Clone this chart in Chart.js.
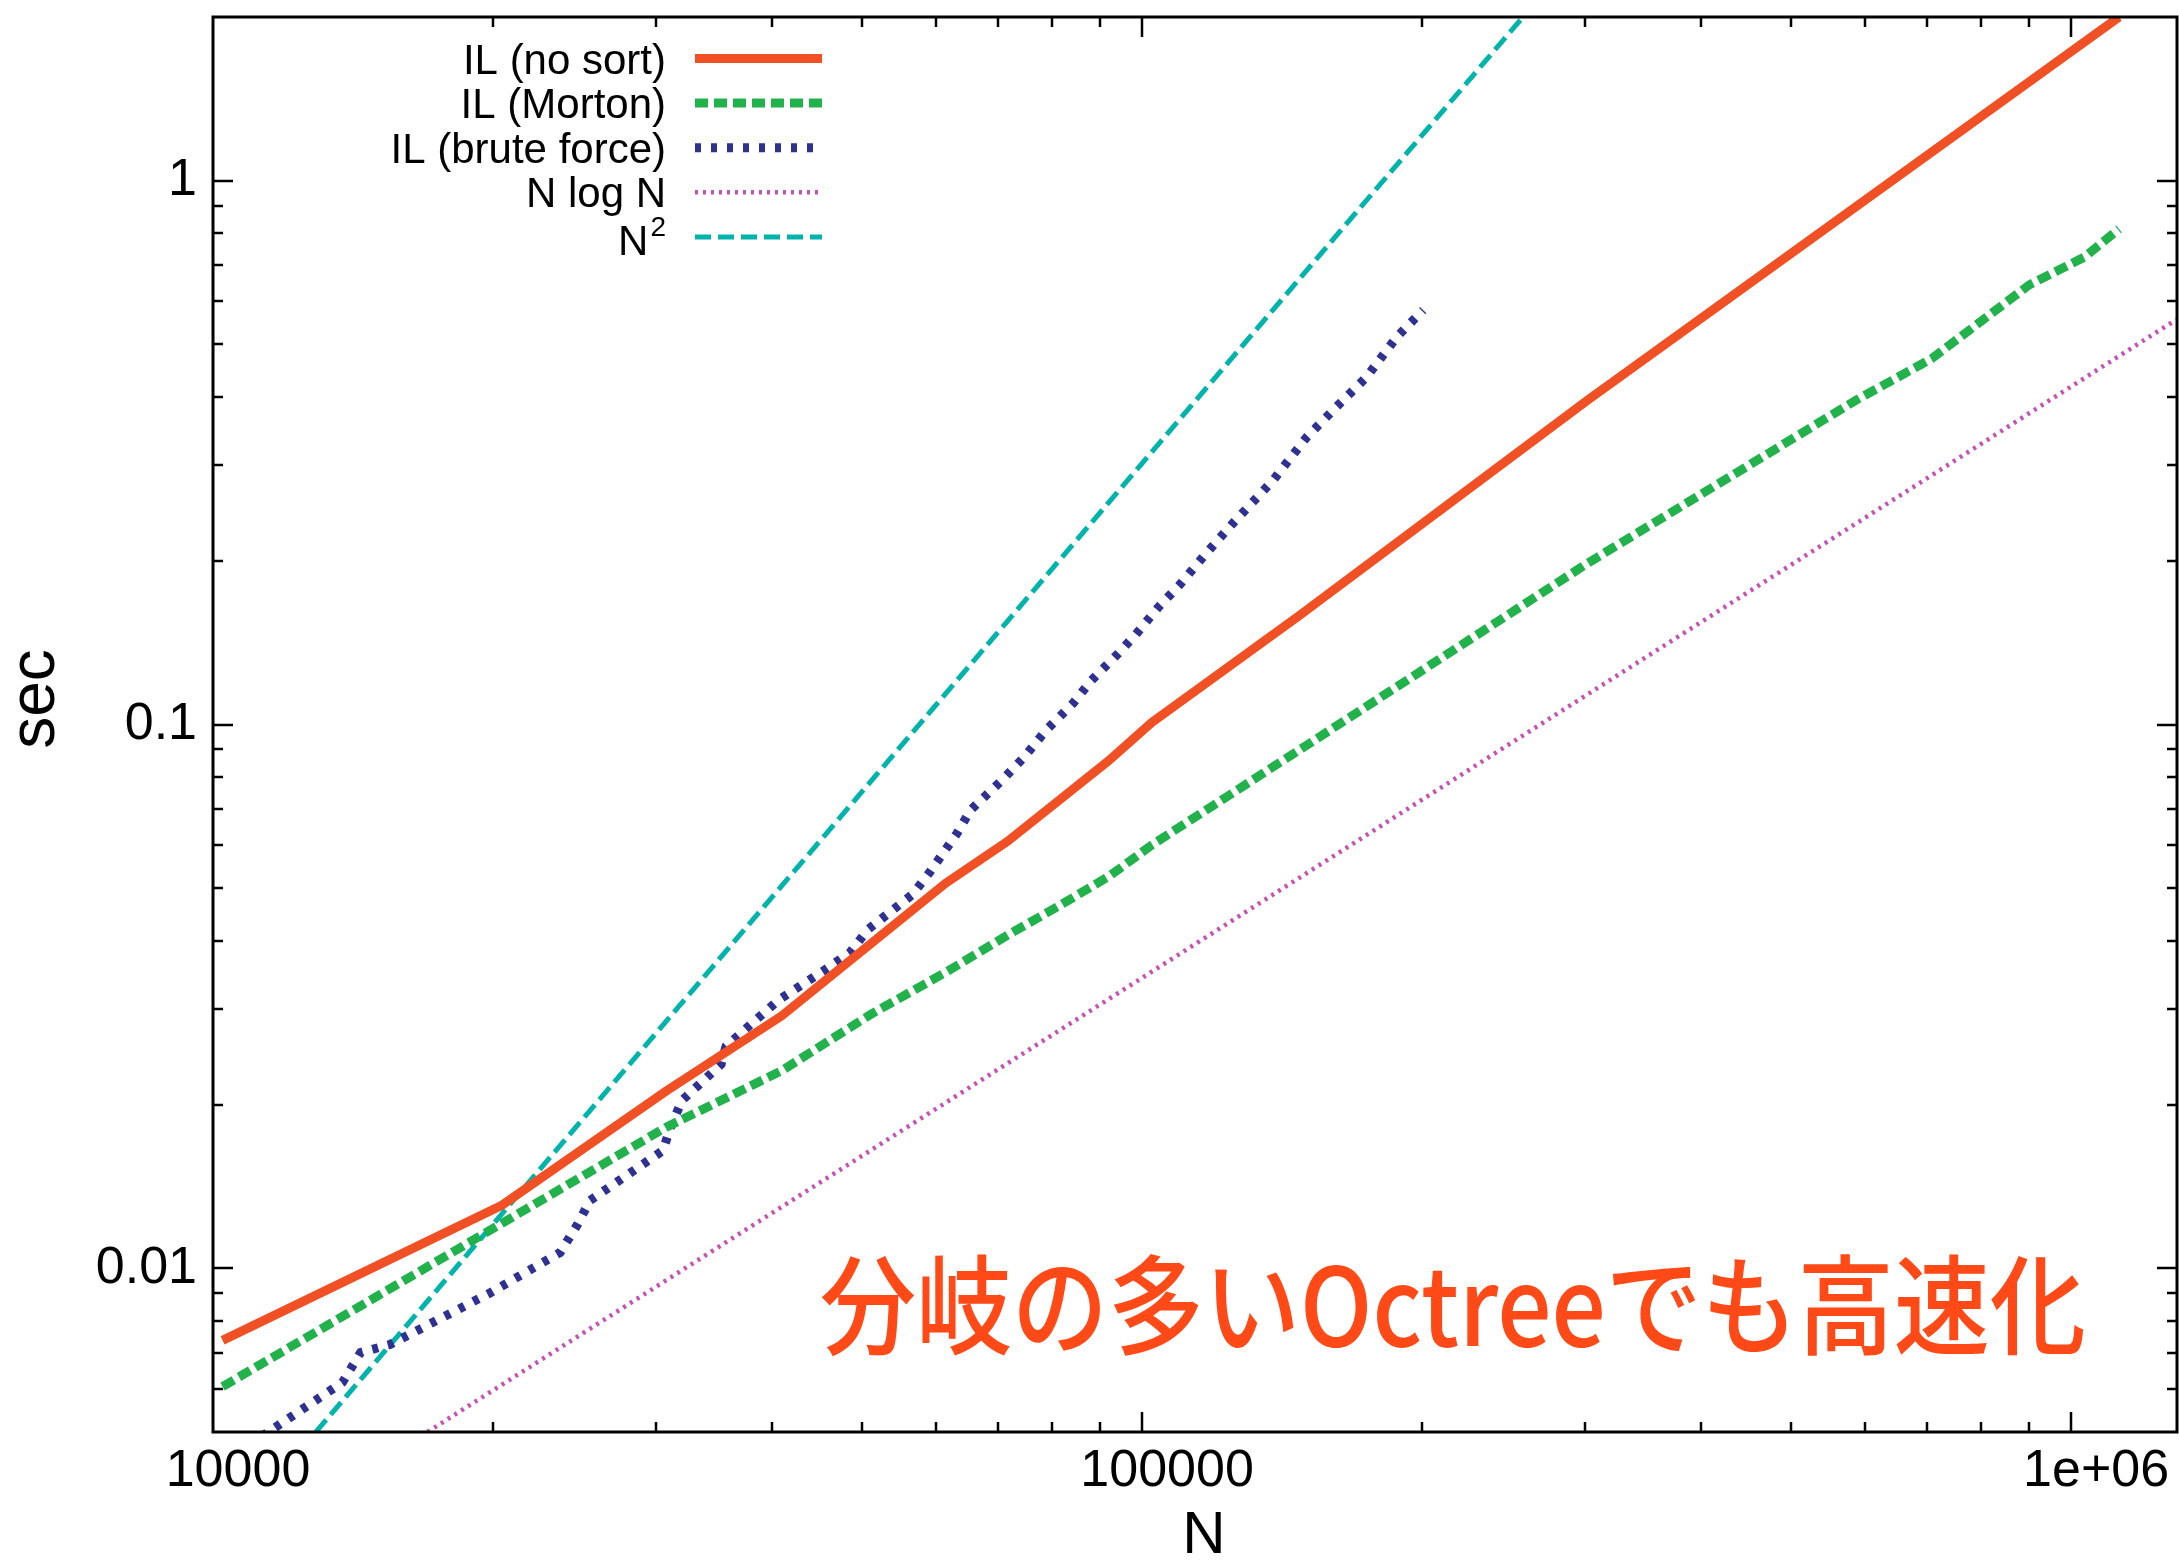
<!DOCTYPE html>
<html>
<head>
<meta charset="utf-8">
<script src="https://cdn.jsdelivr.net/npm/chart.js@4.4.0/dist/chart.umd.min.js"></script>
<style>
  html, body { margin: 0; padding: 0; background: #fff; }
  #wrap { width: 2179px; height: 1562px; position: relative; }
</style>
</head>
<body>
<div id="wrap"><canvas id="myChart"></canvas></div>
<script>
// ---- values (N, seconds) ----
const redN   = [10240, 20480, 30720, 40960, 51200, 61440, 71680, 81920, 92160, 102400, 148000, 301700, 1126000];
const redSec = [0.00737, 0.01307, 0.02116, 0.02914, 0.0397, 0.05105, 0.0610, 0.0732, 0.0859, 0.1008, 0.159, 0.395, 2.0];

const greenN   = [10240, 20480, 30720, 40960, 51200, 61440, 71680, 81920, 92160, 102400, 148000, 301700, 587000, 708000, 901000, 1034000, 1126000];
const greenSec = [0.00606, 0.01211, 0.01816, 0.0231, 0.0294, 0.035, 0.041, 0.0467, 0.0526, 0.0600, 0.090, 0.198, 0.395, 0.471, 0.643, 0.724, 0.815];

const blueN   = [11290, 13785, 14415, 15505, 19825, 23635, 24650, 25460, 30510, 31040, 31975, 35225, 35665, 40570, 45360, 48500, 50700,
                 56620, 59130, 63220, 65370, 70680, 74650, 78820, 84290, 88130, 94230, 98520, 104030, 109880, 116340, 125300, 138400,
                 150460, 163420, 174530, 188050, 200700];
const blueSec = [0.00491, 0.00617, 0.0070, 0.00724, 0.00899, 0.01069, 0.0120, 0.01333, 0.01647, 0.01809, 0.02036, 0.02372, 0.0256,
                 0.0311, 0.0352, 0.0381, 0.0420, 0.0487, 0.0536, 0.0631, 0.0696, 0.0790, 0.0871, 0.0976, 0.1094, 0.1204, 0.135,
                 0.1466, 0.164, 0.181, 0.2034, 0.2346, 0.2814, 0.338, 0.390, 0.4359, 0.5164, 0.578];

const nlognN   = [17015, 115500, 1297000];
const nlognSec = [0.005, 0.0400, 0.555];

const n2N   = [12900, 257000];
const n2Sec = [0.005, 2.0];

const seriesLabels = ['IL (no sort)', 'IL (Morton)', 'IL (brute force)', 'N log N', 'N²'];
const xTickValues = [1e4, 1e5, 1e6];
const xTickLabels = ['10000', '100000', '1e+06'];
const yTickValues = [0.01, 0.1, 1];
const yTickLabels = ['0.01', '0.1', '1'];
const xTitle = 'N';
const yTitle = 'sec';
const note = '分岐の多いOctreeでも高速化';

const FONT = "'Liberation Sans', Arial, Helvetica, sans-serif";

function pts(xs, ys) {
  return xs.map((x, i) => ({x: x, y: ys[i]}));
}

function lineSet(label, xs, ys, color, width, dash) {
  return {
    label: label,
    data: pts(xs, ys),
    borderColor: color,
    backgroundColor: color,
    borderWidth: width,
    borderDash: dash,
    borderCapStyle: 'butt',
    borderJoinStyle: 'miter',
    pointRadius: 0,
    tension: 0,
    fill: false,
    clip: 0
  };
}

const data = {
  datasets: [
    lineSet(seriesLabels[0], redN, redSec, '#f15024', 9, []),
    lineSet(seriesLabels[1], greenN, greenSec, '#22b24c', 9, [13, 6]),
    lineSet(seriesLabels[2], blueN, blueSec, '#2e3192', 9, [6, 10]),
    lineSet(seriesLabels[3], nlognN, nlognSec, '#c652b4', 4.5, [3, 5]),
    lineSet(seriesLabels[4], n2N, n2Sec, '#00b4ab', 5, [16, 7])
  ]
};

// frame + inward log ticks on all four sides
const frame = {
  id: 'frame',
  afterDatasetsDraw(chart) {
    const {ctx, chartArea: a, scales: {x, y}} = chart;
    ctx.save();
    ctx.strokeStyle = '#000';
    ctx.lineWidth = 2.5;
    ctx.beginPath();
    for (let e = 4; e <= 6; e++) {
      for (let m = 1; m <= 9; m++) {
        const v = m * Math.pow(10, e);
        if (v <= x.min || v >= x.max) continue;
        const px = Math.round(x.getPixelForValue(v));
        const len = m === 1 ? 20 : 10;
        ctx.moveTo(px, a.bottom); ctx.lineTo(px, a.bottom - len);
        ctx.moveTo(px, a.top); ctx.lineTo(px, a.top + len);
      }
    }
    for (let e = -3; e <= 0; e++) {
      for (let m = 1; m <= 9; m++) {
        const v = m * Math.pow(10, e);
        if (v <= y.min * 1.0001 || v >= y.max * 0.9999) continue;
        const py = Math.round(y.getPixelForValue(v));
        const len = m === 1 ? 20 : 10;
        ctx.moveTo(a.left, py); ctx.lineTo(a.left + len, py);
        ctx.moveTo(a.right, py); ctx.lineTo(a.right - len, py);
      }
    }
    ctx.stroke();
    ctx.lineWidth = 3;
    ctx.strokeRect(a.left, a.top, a.right - a.left, a.bottom - a.top);
    ctx.restore();
  }
};

// legend (text right-aligned, sample on the right), axis titles and the note
const extras = {
  id: 'extras',
  afterDraw(chart) {
    const {ctx, chartArea: a} = chart;
    ctx.save();
    const textRight = a.left + 453;
    const x0 = a.left + 482, x1 = a.left + 609;
    ctx.font = '42px ' + FONT;
    ctx.fillStyle = '#000';
    ctx.textAlign = 'right';
    ctx.textBaseline = 'alphabetic';
    chart.data.datasets.forEach((ds, i) => {
      const cy = a.top + 41.5 + i * 44.6;
      const base = cy + 15;
      let label = ds.label;
      if (label.endsWith('²')) {
        const main = label.slice(0, -1);
        ctx.font = '28px ' + FONT;
        ctx.fillText('2', textRight, base - 16);
        const w2 = ctx.measureText('2').width;
        ctx.font = '42px ' + FONT;
        ctx.fillText(main, textRight - w2 - 2, base + 3);
      } else {
        ctx.fillText(label, textRight, base);
      }
      ctx.beginPath();
      ctx.strokeStyle = ds.borderColor;
      ctx.lineWidth = ds.borderWidth;
      ctx.setLineDash(ds.borderDash);
      ctx.lineCap = 'butt';
      ctx.moveTo(x0, cy);
      ctx.lineTo(x1, cy);
      ctx.stroke();
      ctx.setLineDash([]);
    });

    // axis titles
    ctx.fillStyle = '#000';
    ctx.textAlign = 'center';
    ctx.textBaseline = 'middle';
    ctx.font = '60px ' + FONT;
    ctx.fillText(xTitle, 1204, 1536);
    ctx.save();
    ctx.translate(36, 699);
    ctx.rotate(-Math.PI / 2);
    ctx.font = '64px ' + FONT;
    ctx.fillText(yTitle, 0, 0);
    ctx.restore();

    // note (slightly tall, like the original)
    ctx.save();
    ctx.translate(820, 1305);
    ctx.scale(1, 1.12);
    ctx.font = "500 96px 'Noto Sans CJK JP', sans-serif";
    ctx.fillStyle = '#ff4a17';
    ctx.textAlign = 'left';
    ctx.textBaseline = 'middle';
    ctx.fillText(note, 0, 0, 1272);
    ctx.restore();
    ctx.restore();
  }
};

const config = {
  type: 'line',
  data,
  options: {
    responsive: true,
    maintainAspectRatio: false,
    animation: false,
    devicePixelRatio: 1,
    layout: { padding: { top: 17, right: 2, left: 0, bottom: 0 } },
    plugins: {
      legend: { display: false },
      tooltip: { enabled: false }
    },
    scales: {
      x: {
        type: 'logarithmic',
        min: 10000,
        max: 1300000,
        grid: { display: false, drawTicks: false },
        border: { display: false },
        afterBuildTicks: (s) => { s.ticks = xTickValues.map(v => ({value: v})); },
        afterFit: (s) => { s.height = 130; s.paddingLeft = 0; s.paddingRight = 0; },
        ticks: {
          autoSkip: false,
          maxRotation: 0,
          padding: 8,
          labelOffset: 25,
          color: '#000',
          font: { family: FONT, size: 52 },
          callback: (v, i) => xTickLabels[i]
        }
      },
      y: {
        type: 'logarithmic',
        min: 0.005,
        max: 2,
        grid: { display: false, drawTicks: false },
        border: { display: false },
        afterBuildTicks: (s) => { s.ticks = yTickValues.map(v => ({value: v})); },
        afterFit: (s) => { s.width = 213; s.paddingTop = 0; s.paddingBottom = 0; },
        ticks: {
          autoSkip: false,
          padding: 16,
          color: '#000',
          font: { family: FONT, size: 52 },
          callback: (v, i) => yTickLabels[i]
        }
      }
    }
  },
  plugins: [frame, extras]
};

const myChart = new Chart(document.getElementById('myChart').getContext('2d'), config);
</script>
</body>
</html>
